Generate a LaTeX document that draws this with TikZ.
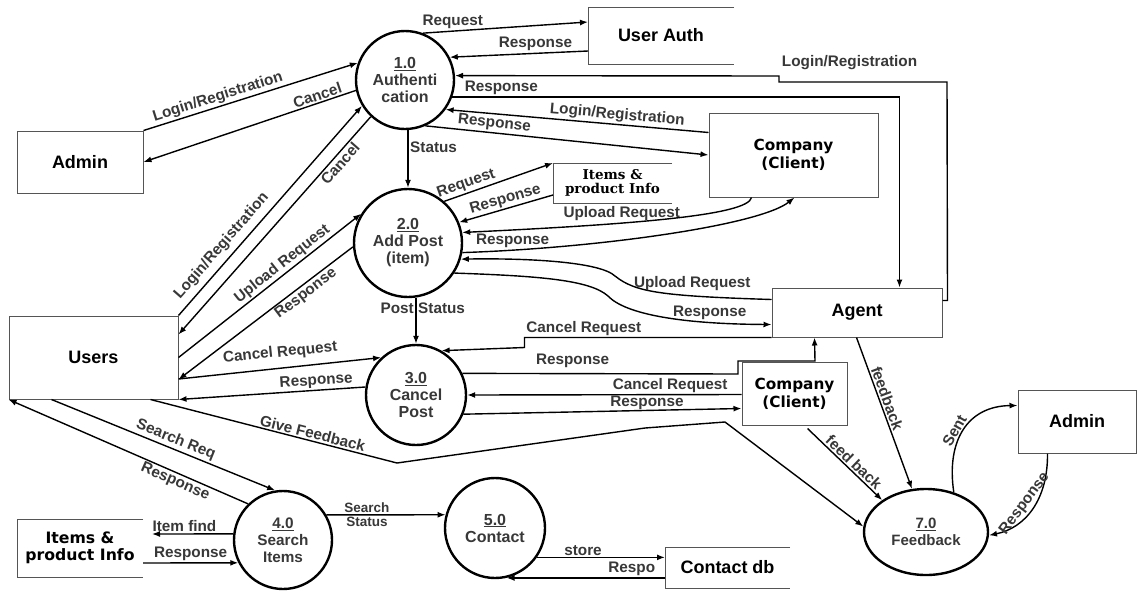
\documentclass[tikz,border=0pt]{standalone}
\usepackage{fontspec}
\setmainfont{Liberation Sans}
\newfontfamily\verd{DejaVu Sans}
\newfontfamily\dser{DejaVu Serif}
\usetikzlibrary{arrows.meta,calc,shapes.geometric}
\definecolor{labgray}{HTML}{383838}
\definecolor{boxgray}{HTML}{555555}
\begin{document}
\begin{tikzpicture}[x=1pt,y=-1pt,
  proc/.style={circle,draw=black,line width=2.4pt,minimum size=#1,inner sep=0pt,align=center,
    font=\bfseries\fontsize{16}{17}\selectfont,text=labgray},
  ent/.style={rectangle,draw=boxgray,line width=1pt,inner sep=0pt,align=center,
    font=\bfseries\fontsize{18}{19.5}\selectfont},
  store/.style={rectangle,inner sep=0pt,outer sep=0pt,align=center,
    font=\bfseries\fontsize{18}{19.5}\selectfont},
  storeline/.style={draw=boxgray,line width=1pt},
  flow/.style={line width=1.4pt,-{Latex[length=8pt,width=6pt]}},
  lab/.style={font=\bfseries\fontsize{15.3}{16.5}\selectfont,text=labgray,inner sep=1.5pt},
  lab2/.style={font=\bfseries\fontsize{13.5}{14.5}\selectfont,text=labgray,inner sep=1.5pt}]
\useasboundingbox (0,0) rectangle (1138,590);
\fill[white] (0,0) rectangle (1138,590);

% processes
\node[proc=98pt]  (c1) at (405,80)  {\underline{1.0}\\Authenti\\cation};
\node[proc=108pt] (c2) at (408,243) {\underline{2.0}\\Add Post\\(item)};
\node[proc=100pt] (c3) at (416,395) {\underline{3.0}\\Cancel\\Post};
\node[proc=98pt,font=\bfseries\fontsize{15.3}{17}\selectfont]  (c4) at (283,540) {\underline{4.0}\\Search\\Items};
\node[proc=100pt] (c5) at (495,528) {\underline{5.0}\\Contact};
\node[ellipse,draw=black,line width=2.4pt,minimum width=124pt,minimum height=86pt,inner sep=0pt,
  align=center,font=\bfseries\fontsize{15}{16.5}\selectfont,text=labgray]
  (e7) at (926,532) {\underline{7.0}\\Feedback};

% entities
\node[ent,minimum width=126pt,minimum height=62pt] (admin1) at (80,162) {Admin};
\node[ent,minimum width=169pt,minimum height=84pt,font=\verd\bfseries\fontsize{15.3}{17.7}\selectfont]
  (comp1) at (793.5,155) {Company\\(Client)};
\node[ent,minimum width=169pt,minimum height=83pt] (users) at (93.5,357.5) {Users};
\node[ent,minimum width=170pt,minimum height=49pt] (agent) at (857,312.5) {Agent};
\node[ent,minimum width=105pt,minimum height=63pt,font=\verd\bfseries\fontsize{15.3}{17.7}\selectfont]
  (comp2) at (794.5,393.5) {Company\\(Client)};
\node[ent,minimum width=118pt,minimum height=63pt] (admin2) at (1077,421.5) {Admin};

% data stores
\node[store,minimum width=146pt,minimum height=57pt] (uauth) at (661,35.5) {User Auth};
\node[store,minimum width=119pt,minimum height=40pt,font=\dser\bfseries\fontsize{13.5}{14.5}\selectfont]
  (items1) at (612.5,183) {Items \&\\product Info};
\node[store,minimum width=126pt,minimum height=58pt,font=\verd\bfseries\fontsize{15.7}{17.5}\selectfont]
  (items2) at (80,548) {Items \&\\product Info};
\node[store,minimum width=125pt,minimum height=41pt] (cdb) at (727.5,567.5) {Contact db};
\foreach \s in {uauth,items1,items2,cdb}
  \draw[storeline] (\s.north east) -- (\s.north west) -- (\s.south west) -- (\s.south east);

\coordinate (agtop) at ($(agent.north west)+(128,0)$);

% Admin <-> 1.0
\draw[flow] (admin1.north east) -- node[lab,sloped,above,pos=0.36]{Login/Registration} (c1.160);
\draw[flow] (c1.192) -- node[lab,sloped,above,pos=0.17]{Cancel} (admin1.east);
% Users <-> 1.0
\draw[flow] (users.north east) -- node[lab,sloped,above=4pt,pos=0.29]{Login/Registration} (c1.211);
\draw[flow] (c1.227) -- node[lab,sloped,below,pos=0.19]{Cancel} ($(users.north east)+(0,19)$);
% Users <-> 2.0
\draw[flow] (users.east) -- node[lab,sloped,above,pos=0.6]{Upload Request} (c2.148);
\draw[flow] (c2.184) -- node[lab,sloped,below,pos=0.3]{Response} ($(users.east)+(0,22)$);
% Users <-> 3.0
\draw[flow] ($(users.east)+(0,21.5)$) -- node[lab,sloped,above=6pt,pos=0.51]{Cancel Request} (c3.133);
\draw[flow] (c3.171) -- node[lab,sloped,above,pos=0.26]{Response} (users.south east);
% Users -> 7.0
\draw[flow] ($(users.south east)+(-28,0)$) -- node[lab,sloped,above,pos=0.65]{Give Feedback} (397,463)
  -- (645,428) -- (725,422) -- (e7.175);
% Users <-> 4.0
\draw[flow] ($(users.south west)+(43,0)$) -- node[lab,sloped,above,pos=0.54]{Search Req} (c4.99);
\draw[flow] (c4.134) -- node[lab,sloped,below,pos=0.29]{Response} (users.south west);
% 4.0 <-> Items
\draw[flow] (c4.173) -- node[lab,above,pos=0.6]{Item find} ($(items2.east)+(9,-14)$);
\draw[flow] ($(items2.east)+(0,15)$) -- node[lab,above]{Response} (c4.207);
% 4.0 -> 5.0
\draw[flow] (c4.30) -- node[lab2,above,pos=0.34]{Search} node[lab2,below,pos=0.34]{Status} (c5.165);
% 5.0 <-> Contact db
\draw[flow] (c5.325) -- node[lab,above,pos=0.36]{store} (c5.325 -| cdb.west);
\draw[flow] (cdb.west |- c5.283) -- node[lab,above,pos=0.21]{Respo} (c5.283);
% 1.0 <-> User Auth
\draw[flow] (c1.69) -- node[lab,above,pos=0.18]{Request} ($(uauth.north west)+(0,15)$);
\draw[flow] ($(uauth.south west)+(0,-13)$) -- node[lab,above,pos=0.38]{Response} (c1.27);
% Agent <-> 1.0
\draw[flow] ($(agent.north east)+(0,13)$) -- ++(5,0) -- (947,82)
  -- node[lab,above=10pt,pos=0.58]{Login/Registration} (779,82) -- (779,76) -- (c1.5);
\draw[flow] (c1.340) -- node[lab,above,pos=0.11]{Response} (c1.340 -| agtop) -- (agtop);
% Company <-> 1.0
\draw[flow] ($(comp1.north west)+(0,20)$) -- node[lab,sloped,above,pos=0.35]{Login/Registration} (c1.324);
\draw[flow] (c1.294) -- node[lab,sloped,above,pos=0.24]{Response} (comp1.west);
% 1.0 -> 2.0
\draw[flow] (c2.north |- c1.south) -- node[lab,right,pos=0.3]{Status} (c2.north);
% 2.0 <-> Items
\draw[flow] (c2.49) -- node[lab,sloped,above,pos=0.23]{Request} (items1.north west);
\draw[flow] ($(items1.south west)+(0,-8)$) -- node[lab,sloped,above,pos=0.48]{Response} (c2.22);
% Company <-> 2.0
\draw[flow] ($(comp1.south west)+(43,0)$) .. controls (748,215) and (640,224) ..
  node[lab,above,pos=0.65]{Upload Request} (c2.11);
\draw[flow] (c2.350) .. controls (600,248) and (760,225) ..
  node[lab,above,pos=0.12]{Response} ($(comp1.south west)+(86,0)$);
% Agent <-> 2.0
\draw[flow] ($(agent.north west)+(0,12)$) .. controls (660,296) and (635,292) ..
  node[lab,above=3pt,pos=0.3]{Upload Request} (615,276) .. controls (600,262) and (530,258) .. (c2.343);
\draw[flow] (c2.327) .. controls (540,276) and (590,280) .. (608,296) .. controls (625,314) and (680,324) ..
  node[lab,above,pos=0.75]{Response} ($(agent.north west)+(0,37)$);
% 2.0 -> 3.0
\draw[flow] (c3.north |- c2.south) -- node[lab,left,pos=0.22]{Post} node[lab,right,pos=0.22]{Status} (c3.north);
% Agent <-> 3.0
\draw[flow] (agent.south west) -- node[lab,above,pos=0.76]{Cancel Request} ++(-247,0) -- ++(0,10) -- (c3.60);
\draw[flow] (c3.25) -- node[lab,above=4pt,pos=0.4]{Response} (738,374) -- (738,361) -- (815,361)
  -- ($(agent.south west)+(43,0)$);
% Company2 <-> 3.0
\draw[flow] ($(comp2.north west)+(0,33)$) -- node[lab,above,pos=0.26]{Cancel Request} (c3.0);
\draw[flow] (c3.338) -- node[lab,above,pos=0.66,inner sep=0pt]{Response} ($(comp2.north west)+(0,47)$);
% -> 7.0
\draw[flow] ($(agent.south west)+(85,0)$) -- node[lab,sloped,above,pos=0.42]{feedback} (e7.108);
\draw[flow] ($(comp2.south west)+(66,3)$) -- node[lab,sloped,above,pos=0.55]{feed back} (e7.144);
% 7.0 <-> Admin
\draw[flow] (e7.55) .. controls (946,440) and (968,406) ..
  node[lab,sloped,above,pos=0.45]{Sent} ($(admin2.north west)+(0,16)$);
\draw[flow] ($(admin2.south west)+(30,0)$) .. controls (1048,500) and (1025,528) ..
  node[lab,sloped,above,pos=0.5]{Response} (e7.357);
\end{tikzpicture}
\end{document}
